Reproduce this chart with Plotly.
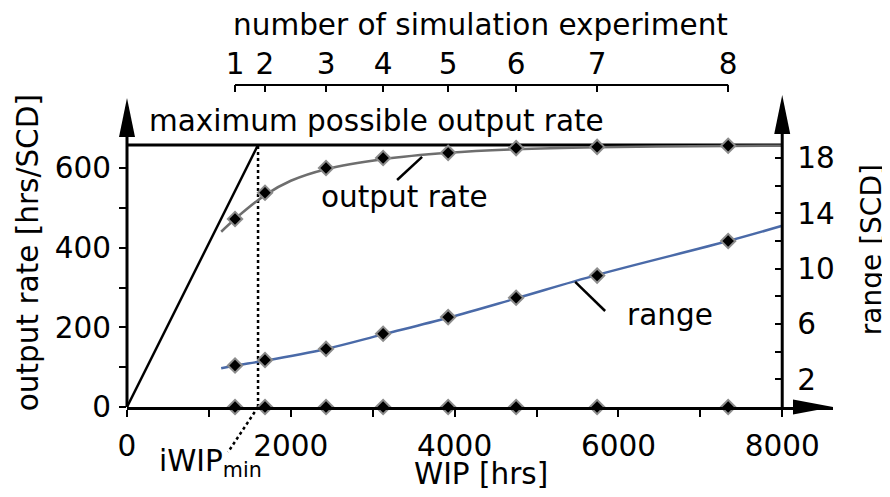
import plotly.graph_objects as go

# ---------------- data ----------------
experiment_no = [1, 2, 3, 4, 5, 6, 7, 8]
experiment_wip = [1319, 1685, 2430, 3127, 3921, 4751, 5740, 7340]
experiment_rate = [472, 538, 600, 625, 638, 650, 653, 656]
experiment_range = [3.0, 3.4, 4.2, 5.3, 6.5, 7.9, 9.5, 12.0]

curve_wip = [1150, 1319, 1685, 2000, 2430, 3127, 3921, 4751, 5740, 7340, 8000]
curve_rate = [440, 472, 532, 568, 597, 622, 638, 647, 652, 655, 656]

range_curve_wip = [1150, 1319, 1685, 2430, 3127, 3921, 4751, 5740, 7340, 8000]
range_curve_val = [2.8, 3.0, 3.35, 4.2, 5.25, 6.45, 7.85, 9.55, 12.0, 13.1]

max_rate = 658
iwip_min = 1600
wip_end = 8000

x_ticks = [0, 2000, 4000, 6000, 8000]
x_minor = [1000, 3000, 5000, 7000]
y_ticks = [0, 200, 400, 600]
y_minor = [100, 300, 500]
y2_ticks = [2, 6, 10, 14, 18]
y2_minor = [4, 8, 12, 16]

X_RANGE = [0, 8620]
Y_RANGE = [0, 808.4]
Y2_RANGE = [0, 23.28]

FONT = "DejaVu Sans"
FS = 29.5
BLACK = "black"
GRAY = "#6e6e6e"
BLUE = "#4a6aa8"

right_pos = wip_end / X_RANGE[1]

fig = go.Figure()

# ideal (max possible) output rate line
fig.add_trace(go.Scatter(x=[0, wip_end], y=[max_rate, max_rate], mode="lines",
                         line=dict(color=BLACK, width=3), hoverinfo="skip", showlegend=False))
# ideal line from origin
fig.add_trace(go.Scatter(x=[0, iwip_min], y=[0, max_rate], mode="lines",
                         line=dict(color=BLACK, width=2.5), hoverinfo="skip", showlegend=False))
# dotted iWIPmin line
fig.add_trace(go.Scatter(x=[iwip_min, iwip_min], y=[0, max_rate], mode="lines",
                         line=dict(color=BLACK, width=2.5, dash="dot"), hoverinfo="skip", showlegend=False))
# output rate curve
fig.add_trace(go.Scatter(x=curve_wip, y=curve_rate, mode="lines", line_shape="spline",
                         line=dict(color=GRAY, width=2.5), hoverinfo="skip", showlegend=False))
# range curve
fig.add_trace(go.Scatter(x=range_curve_wip, y=range_curve_val, mode="lines", line_shape="spline",
                         yaxis="y2", line=dict(color=BLUE, width=2.5), hoverinfo="skip", showlegend=False))

marker = dict(symbol="diamond", size=11, color=BLACK, line=dict(color="#8c8c8c", width=2))
fig.add_trace(go.Scatter(x=experiment_wip, y=experiment_rate, mode="markers", marker=marker,
                         hoverinfo="skip", showlegend=False))
fig.add_trace(go.Scatter(x=experiment_wip, y=experiment_range, mode="markers", marker=marker,
                         yaxis="y2", hoverinfo="skip", showlegend=False))
fig.add_trace(go.Scatter(x=experiment_wip, y=[0 for _ in experiment_wip], mode="markers", marker=marker,
                         xaxis="x2", cliponaxis=False, hoverinfo="skip", showlegend=False))

axis_common = dict(showgrid=False, zeroline=False, tickcolor=BLACK, tickwidth=2, ticklen=7,
                   automargin=False, tickfont=dict(family=FONT, size=FS, color=BLACK))

# page body adds an 8px offset; compensate so the plot area lands at x 127..833, y 85..407
fig.update_layout(
    width=882, height=489, autosize=False,
    margin=dict(l=119, r=57, t=77, b=90),
    plot_bgcolor="white", paper_bgcolor="white",
    font=dict(family=FONT, size=FS, color=BLACK),
    xaxis=dict(range=X_RANGE, tickvals=x_ticks, ticks="outside", showline=True,
               linewidth=3, linecolor=BLACK, ticklabelstandoff=4,
               minor=dict(tickvals=x_minor, ticks="outside", ticklen=7, tickwidth=2, tickcolor=BLACK),
               **axis_common),
    xaxis2=dict(range=X_RANGE, overlaying="x", side="top", anchor="y", tickvals=experiment_wip,
                ticktext=[str(n) for n in experiment_no], ticks="inside", showline=False,
                ticklabelstandoff=4, **axis_common),
    yaxis=dict(range=Y_RANGE, tickvals=y_ticks, ticks="outside", showline=False,
               ticklabelstandoff=2,
               minor=dict(tickvals=y_minor, ticks="outside", ticklen=7, tickwidth=2, tickcolor=BLACK),
               **axis_common),
    yaxis2=dict(range=Y2_RANGE, overlaying="y", side="right", anchor="free", position=right_pos,
                tickvals=y2_ticks, ticks="inside", showline=False, ticklabelstandoff=14,
                minor=dict(tickvals=y2_minor, ticks="inside", ticklen=7, tickwidth=2, tickcolor=BLACK),
                **axis_common),
)

shapes = []
# left vertical axis line
shapes.append(dict(type="line", xref="paper", yref="paper", x0=0, x1=0, y0=0, y1=0.93,
                   line=dict(color=BLACK, width=3)))
# right vertical axis line
shapes.append(dict(type="line", xref="paper", yref="paper", x0=right_pos, x1=right_pos, y0=0, y1=0.94,
                   line=dict(color=BLACK, width=3)))
# top axis line (experiment 1..8)
shapes.append(dict(type="line", xref="x", yref="paper", x0=experiment_wip[0], x1=experiment_wip[-1],
                   y0=1, y1=1, line=dict(color=BLACK, width=2)))
# arrowheads
shapes.append(dict(type="path", xref="paper", yref="paper", xsizemode="pixel", ysizemode="pixel",
                   xanchor=0, yanchor=0.9596, path="M0,0 L-8,-39 L8,-39 Z",
                   fillcolor=BLACK, line=dict(width=0)))
shapes.append(dict(type="path", xref="paper", yref="paper", xsizemode="pixel", ysizemode="pixel",
                   xanchor=right_pos, yanchor=0.969, path="M0,0 L-8,-39 L8,-39 Z",
                   fillcolor=BLACK, line=dict(width=0)))
shapes.append(dict(type="path", xref="paper", yref="paper", xsizemode="pixel", ysizemode="pixel",
                   xanchor=1, yanchor=0, path="M0,0 L-40,7.5 L-40,-7.5 Z",
                   fillcolor=BLACK, line=dict(width=0)))
# iWIPmin dotted leader
shapes.append(dict(type="line", xref="x", yref="paper", x0=iwip_min, y0=0, x1=1234, y1=-0.14,
                   line=dict(color=BLACK, width=2.5, dash="dot")))
# label leaders
shapes.append(dict(type="line", xref="x", yref="y", x0=3298, y0=570, x1=3603, y1=628,
                   line=dict(color=BLACK, width=2.5)))
shapes.append(dict(type="line", xref="x", yref="y", x0=5472, y0=314, x1=5838, y1=241,
                   line=dict(color=BLACK, width=2.5)))
fig.update_layout(shapes=shapes)

def ann(text, x, y, xref="paper", yref="paper", xanchor="center", yanchor="middle", angle=0, size=FS):
    return dict(text=text, x=x, y=y, xref=xref, yref=yref, xanchor=xanchor, yanchor=yanchor,
                showarrow=False, textangle=angle, borderpad=0,
                font=dict(family=FONT, size=size, color=BLACK))

fig.update_layout(annotations=[
    ann("number of simulation experiment", 0.501, 1.186),
    ann("maximum possible output rate", 3041, 0.888, xref="x"),
    ann("output rate", 3383, 527, xref="x", yref="y"),
    ann("range", 6632, 231, xref="x", yref="y"),
    ann("WIP [hrs]", 0.501, -0.207),
    ann("iWIP<sub>min</sub>", 0.0439, -0.111, xanchor="left", yanchor="top"),
    ann("output rate [hrs/SCD]", -0.140, 0.478, angle=-90),
    ann("range [SCD]", 1.0555, 0.4876, angle=-90, size=28),
])

fig.write_html("out.html")
